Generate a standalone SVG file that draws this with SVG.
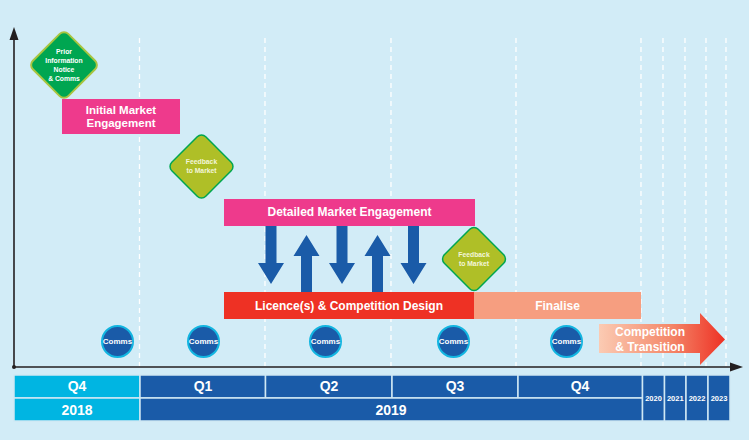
<svg xmlns="http://www.w3.org/2000/svg" xmlns:xlink="http://www.w3.org/1999/xlink" width="749" height="440" viewBox="0 0 749 440">
<defs>
<style>
text{font-family:"Liberation Sans",Arial,sans-serif;font-weight:bold;fill:#fff;text-anchor:middle}
.grid{stroke:#fff;stroke-width:1.3;stroke-dasharray:5 4}
.axis{stroke:#231F20;stroke-width:1.6;fill:none}
.bar{font-size:12px}
.dia-g{fill:#00A651;stroke:#A9C540;stroke-width:2}
.dia-y{fill:#AFBF27;stroke:#00A651;stroke-width:1.5}
.dt{font-size:6.8px;fill:#F3F6DA}
.comm{fill:#1A5BA8;stroke:#12B5E0;stroke-width:2}
.ct{font-size:8px}
.blu{fill:#1A5BA8}
.cell{stroke:#CFE8F4;stroke-width:1.5}
.q{font-size:14px}
.yr{font-size:7.5px}
</style>
<linearGradient id="cg" x1="599" y1="0" x2="725" y2="0" gradientUnits="userSpaceOnUse">
<stop offset="0" stop-color="#FBCBB3"/>
<stop offset="0.55" stop-color="#F48A6C"/>
<stop offset="1" stop-color="#EE3124"/>
</linearGradient>
<path id="down" d="M-5.5,226 H5.5 V263 H13 L0,284 L-13,263 H-5.5 Z"/>
<path id="up" d="M-5.5,292 H5.5 V256 H13 L0,235 L-13,256 H-5.5 Z"/>
</defs>
<rect width="749" height="440" fill="#D2ECF7"/>
<g id="gridlines">
<line class="grid" x1="139.5" y1="38" x2="139.5" y2="366"/>
<line class="grid" x1="265" y1="38" x2="265" y2="366"/>
<line class="grid" x1="391" y1="38" x2="391" y2="366"/>
<line class="grid" x1="516" y1="38" x2="516" y2="366"/>
<line class="grid" x1="641" y1="38" x2="641" y2="366"/>
<line class="grid" x1="663" y1="38" x2="663" y2="366"/>
<line class="grid" x1="685" y1="38" x2="685" y2="366"/>
<line class="grid" x1="706" y1="38" x2="706" y2="366"/>
<line class="grid" x1="726" y1="38" x2="726" y2="366"/>
</g>
<g id="axes">
<line class="axis" x1="14" y1="367" x2="14" y2="38"/>
<path d="M14,27 L18.5,40 L9.5,40 Z" fill="#231F20"/>
<line class="axis" x1="14" y1="367" x2="732" y2="367"/>
<path d="M743,367 L730,362.5 L730,371.5 Z" fill="#231F20"/>
<circle cx="14" cy="367" r="2" fill="#231F20"/>
</g>
<g id="prior-notice">
<rect class="dia-g" x="39" y="40" width="50" height="50" rx="6" transform="rotate(45 64 65)"/>
<text class="dt" x="64" y="54" style="fill:#fff">Prior</text>
<text class="dt" x="64" y="63" style="fill:#fff">Information</text>
<text class="dt" x="64" y="72" style="fill:#fff">Notice</text>
<text class="dt" x="64" y="81" style="fill:#fff">&amp; Comms</text>
</g>
<g id="initial-engagement">
<rect x="62" y="99" width="118" height="35" fill="#EE3A8C"/>
<text x="121" y="114" style="font-size:11.5px">Initial Market</text>
<text x="121" y="126.5" style="font-size:11.5px">Engagement</text>
</g>
<g id="feedback-1">
<rect class="dia-y" x="177.5" y="142.5" width="48" height="48" rx="6" transform="rotate(45 201.5 166.5)"/>
<text class="dt" x="201.5" y="164">Feedback</text>
<text class="dt" x="201.5" y="173">to Market</text>
</g>
<g id="detailed-engagement">
<rect x="224" y="199" width="251" height="27" fill="#EE3A8C"/>
<text class="bar" x="349.5" y="216">Detailed Market Engagement</text>
</g>
<g id="licence-design">
<rect x="224" y="292" width="250" height="27" fill="#EE3124"/>
<text class="bar" x="349" y="309.5">Licence(s) &amp; Competition Design</text>
</g>
<g id="finalise">
<rect x="474" y="292" width="167" height="27" fill="#F69E80"/>
<text class="bar" x="557.5" y="309.5">Finalise</text>
</g>
<g id="feedback-2">
<rect class="dia-y" x="450" y="235" width="48" height="48" rx="6" transform="rotate(45 474 259)"/>
<text class="dt" x="474" y="256.5">Feedback</text>
<text class="dt" x="474" y="265.5">to Market</text>
</g>
<g id="connectors">
<use xlink:href="#down" class="blu" x="271"/>
<use xlink:href="#up" class="blu" x="306.5"/>
<use xlink:href="#down" class="blu" x="342"/>
<use xlink:href="#up" class="blu" x="377.5"/>
<use xlink:href="#down" class="blu" x="413.5"/>
</g>
<g id="comms-1"><circle class="comm" cx="117.5" cy="341.5" r="15.5"/><text class="ct" x="117.5" y="344.3">Comms</text></g>
<g id="comms-2"><circle class="comm" cx="203.5" cy="341.5" r="15.5"/><text class="ct" x="203.5" y="344.3">Comms</text></g>
<g id="comms-3"><circle class="comm" cx="325.5" cy="341.5" r="15.5"/><text class="ct" x="325.5" y="344.3">Comms</text></g>
<g id="comms-4"><circle class="comm" cx="453.5" cy="341.5" r="15.5"/><text class="ct" x="453.5" y="344.3">Comms</text></g>
<g id="comms-5"><circle class="comm" cx="566.5" cy="341.5" r="15.5"/><text class="ct" x="566.5" y="344.3">Comms</text></g>
<g id="competition-transition">
<path d="M599,324 H700 V313 L725,339.5 L700,365 V353 H599 Z" fill="url(#cg)"/>
<text x="650" y="336" style="font-size:12px">Competition</text>
<text x="650" y="350.5" style="font-size:12px">&amp; Transition</text>
</g>
<g id="timeline-table">
<rect class="cell" x="14" y="375" width="126" height="23" fill="#00B5E2"/>
<rect class="cell" x="14" y="398" width="126" height="23" fill="#00B5E2"/>
<rect class="cell" x="140" y="375" width="125.5" height="23" fill="#1A5BA8"/>
<rect class="cell" x="265.5" y="375" width="126.5" height="23" fill="#1A5BA8"/>
<rect class="cell" x="392" y="375" width="126" height="23" fill="#1A5BA8"/>
<rect class="cell" x="518" y="375" width="124.5" height="23" fill="#1A5BA8"/>
<rect class="cell" x="140" y="398" width="502.5" height="23" fill="#1A5BA8"/>
<rect class="cell" x="642.5" y="375" width="22" height="46" fill="#1A5BA8"/>
<rect class="cell" x="664.5" y="375" width="21.5" height="46" fill="#1A5BA8"/>
<rect class="cell" x="686" y="375" width="22" height="46" fill="#1A5BA8"/>
<rect class="cell" x="708" y="375" width="22" height="46" fill="#1A5BA8"/>
<text class="q" x="77" y="391">Q4</text>
<text class="q" x="203" y="391">Q1</text>
<text class="q" x="329" y="391">Q2</text>
<text class="q" x="455" y="391">Q3</text>
<text class="q" x="580" y="391">Q4</text>
<text class="q" x="77" y="415">2018</text>
<text class="q" x="391" y="415">2019</text>
<text class="yr" x="653.5" y="401">2020</text>
<text class="yr" x="675.3" y="401">2021</text>
<text class="yr" x="697" y="401">2022</text>
<text class="yr" x="719" y="401">2023</text>
</g>
</svg>
